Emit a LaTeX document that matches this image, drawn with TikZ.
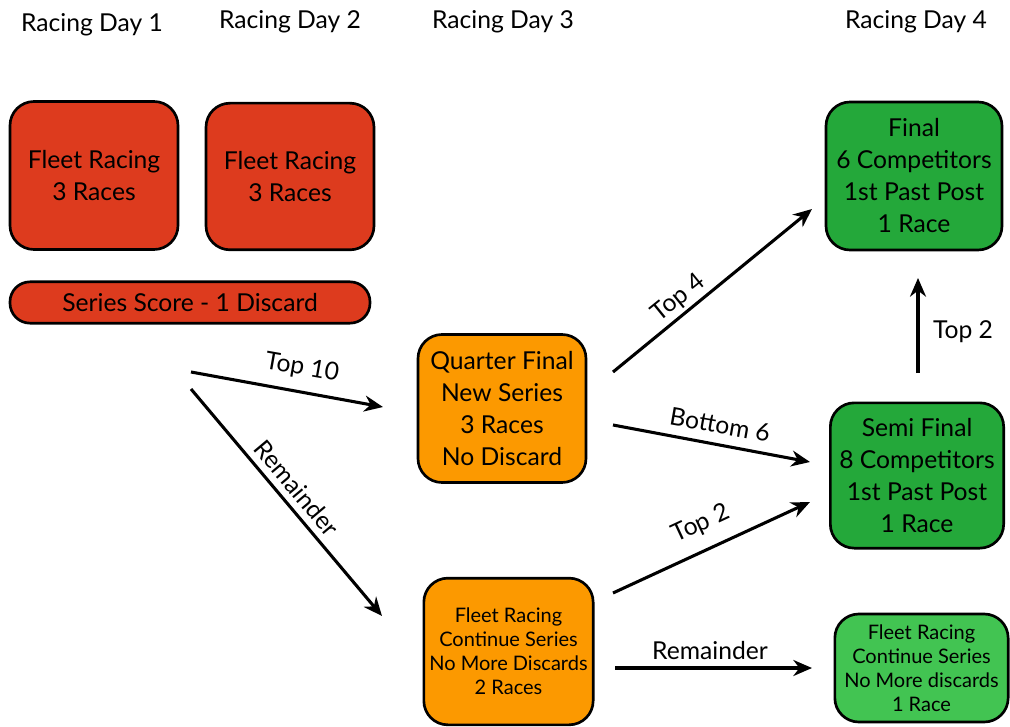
\documentclass[tikz,border=0pt]{standalone}
\usepackage{fontspec}
\setmainfont{Lato}
\usetikzlibrary{arrows.meta}
\definecolor{redbox}{RGB}{221,59,30}
\definecolor{orangebox}{RGB}{252,153,0}
\definecolor{darkgreen}{RGB}{36,168,58}
\definecolor{lightgreen}{RGB}{66,196,82}
\tikzset{
  box/.style={draw=black, line width=2pt, rounded corners=18pt, align=center, inner sep=0pt, font=\fontsize{18.5}{24}\selectfont},
  smallbox/.style={box, font=\fontsize{15}{18}\selectfont},
  header/.style={font=\fontsize{18.5}{22}\selectfont},
  flow/.style={line width=2.3pt, -{Stealth[length=14pt,width=12pt]}},
  lbl/.style={font=\fontsize{18.5}{22}\selectfont, inner sep=1pt}
}
\begin{document}
\begin{tikzpicture}[x=0.75pt,y=-0.75pt]
\useasboundingbox (0,0) rectangle (1010,727);
% headers
\node[header] (h1) at (92,25) {Racing Day 1};
\node[header] (h2) at (290,22) {Racing Day 2};
\node[header] (h3) at (503,22) {Racing Day 3};
\node[header] (h4) at (916,22) {Racing Day 4};
% boxes
\node[box, fill=redbox, minimum width=126pt, minimum height=111pt] (r1) at (94,175.5) {Fleet Racing\\3 Races};
\node[box, fill=redbox, minimum width=126pt, minimum height=110pt] (r2) at (290,176.5) {Fleet Racing\\3 Races};
\node[box, fill=redbox, rounded corners=15pt, minimum width=270pt, minimum height=31pt] (ss) at (190,302.5) {Series Score - 1 Discard};
\node[box, fill=orangebox, minimum width=126pt, minimum height=111pt] (qf) at (502,408.5) {Quarter Final\\New Series\\3 Races\\No Discard};
\node[smallbox, fill=orangebox, minimum width=127pt, minimum height=110pt] (fo) at (508.5,651.5) {Fleet Racing\\Continue Series\\No More Discards\\2 Races};
\node[box, fill=darkgreen, minimum width=132pt, minimum height=111pt] (fin) at (914,176) {Final\\6 Competitors\\1st Past Post\\1 Race};
\node[box, fill=darkgreen, minimum width=130pt, minimum height=109pt] (sf) at (917,475.5) {Semi Final\\8 Competitors\\1st Past Post\\1 Race};
\node[smallbox, fill=lightgreen, minimum width=130pt, minimum height=81pt] (fg) at (921.5,668) {Fleet Racing\\Continue Series\\No More discards\\1 Race};
% arrow end points
\coordinate (a1s) at (191,372); \coordinate (a1e) at (383,407);
\coordinate (a2s) at (191,389); \coordinate (a2e) at (382,616);
\coordinate (a3s) at (613,372); \coordinate (a3e) at (812,209);
\coordinate (a4s) at (613,425); \coordinate (a4e) at (810,462);
\coordinate (a5s) at (613,593); \coordinate (a5e) at (810,502);
\coordinate (a6s) at (615,668); \coordinate (a6e) at (812,668);
\coordinate (a7s) at (918,373); \coordinate (a7e) at (918,278);
\draw[flow] (a1s) -- (a1e);
\draw[flow] (a2s) -- (a2e);
\draw[flow] (a3s) -- (a3e);
\draw[flow] (a4s) -- (a4e);
\draw[flow] (a5s) -- (a5e);
\draw[flow] (a6s) -- (a6e);
\draw[flow] (a7s) -- (a7e);
% labels
\node[lbl, rotate=-10] (l1) at (302,368) {Top 10};
\node[lbl, rotate=-50] (l2) at (297,488) {Remainder};
\node[lbl, rotate=39] (l3) at (679,298) {Top 4};
\node[lbl, rotate=-10] (l4) at (720,425) {Bottom 6};
\node[lbl, rotate=25] (l5) at (701,524) {Top 2};
\node[lbl] (l6) at (710,651) {Remainder};
\node[lbl] (l7) at (963,332) {Top 2};
\end{tikzpicture}
\end{document}
